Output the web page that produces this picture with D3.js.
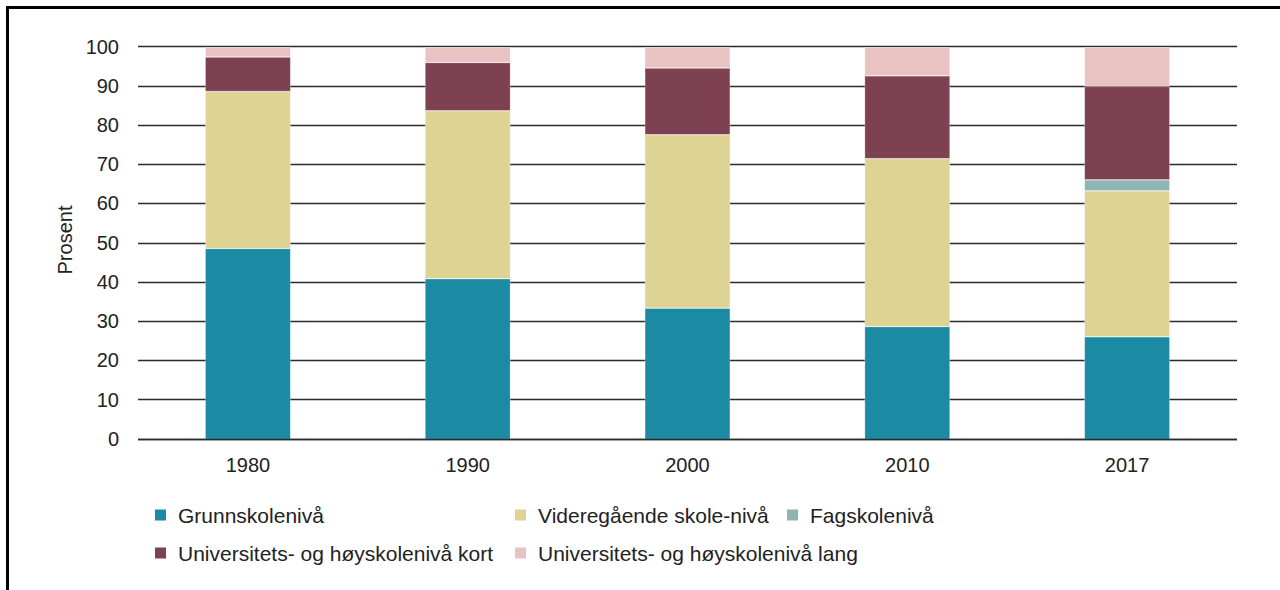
<!DOCTYPE html>
<html>
<head>
<meta charset="utf-8">
<script src="https://cdn.jsdelivr.net/npm/d3@7"></script>
<style>
  body { margin: 0; background: #fff; }
  svg { display: block; font-family: "Liberation Sans", Arial, sans-serif; }
</style>
</head>
<body>
<div id="chart"></div>
<script>
const years = ['1980', '1990', '2000', '2010', '2017'];
const series = ['Grunnskolenivå', 'Videregående skole-nivå', 'Fagskolenivå',
  'Universitets- og høyskolenivå kort', 'Universitets- og høyskolenivå lang'];
const grunn = [48.7, 41.0, 33.5, 28.8, 26.2];
const videregaende = [40.0, 42.8, 44.2, 42.8, 37.2];
const fagskole = [0, 0, 0, 0, 2.8];
const uniKort = [8.8, 12.3, 17.0, 21.1, 23.8];
const uniLang = [2.5, 3.9, 5.3, 7.3, 10.0];
const yTicks = [0, 10, 20, 30, 40, 50, 60, 70, 80, 90, 100];
const colors = ['#1b8aa3', '#dfd393', '#8fb5b3', '#7d4151', '#e8c3c2'];

const width = 1280, height = 590;
const svg = d3.select('#chart').append('svg')
  .attr('width', width).attr('height', height);

// frame (top + left only, as in the source)
svg.append('path')
  .attr('d', `M7.5,${height} V7.5 H${width}`)
  .attr('fill', 'none').attr('stroke', '#000').attr('stroke-width', 3);

const plot = { left: 138, right: 1237, top: 46.3, bottom: 438.7 };

const x = d3.scaleBand().domain(years).range([plot.left, plot.right]).paddingInner(0.614).paddingOuter(0.307);
const y = d3.scaleLinear().domain([0, 100]).range([plot.bottom, plot.top]);

const rows = years.map((yr, i) => ({
  year: yr,
  [series[0]]: grunn[i],
  [series[1]]: videregaende[i],
  [series[2]]: fagskole[i],
  [series[3]]: uniKort[i],
  [series[4]]: uniLang[i]
}));
const stacked = d3.stack().keys(series)(rows);

// gridlines
svg.append('g').selectAll('line').data(yTicks).join('line')
  .attr('x1', plot.left).attr('x2', plot.right)
  .attr('y1', d => Math.round(y(d)) + 0.5).attr('y2', d => Math.round(y(d)) + 0.5)
  .attr('stroke', '#2b2b2b').attr('stroke-width', 1.3);

// y labels
svg.append('g').selectAll('text').data(yTicks).join('text')
  .attr('x', 119).attr('y', d => y(d)).attr('dy', '0.36em')
  .attr('text-anchor', 'end').attr('font-size', 20).attr('fill', '#222')
  .text(d => d);

svg.append('text')
  .attr('transform', `translate(71.5,240) rotate(-90)`)
  .attr('text-anchor', 'middle').attr('font-size', 20).attr('fill', '#222')
  .text('Prosent');

// bars
svg.append('g').selectAll('g').data(stacked).join('g')
  .attr('fill', (d, i) => colors[i])
  .selectAll('rect').data(d => d.filter(s => s[1] - s[0] > 0)).join('rect')
  .attr('x', d => x(d.data.year))
  .attr('width', x.bandwidth())
  .attr('y', d => y(d[1]) + 1.2)
  .attr('height', d => Math.max(0, y(d[0]) - y(d[1]) - 0.6))
  .attr('stroke', 'rgba(255,255,255,0.35)').attr('stroke-width', 0.8);

// baseline over bars
svg.append('line')
  .attr('x1', plot.left).attr('x2', plot.right)
  .attr('y1', Math.round(y(0)) + 0.5).attr('y2', Math.round(y(0)) + 0.5)
  .attr('stroke', '#2b2b2b').attr('stroke-width', 1.3);

// x labels
svg.append('g').selectAll('text').data(years).join('text')
  .attr('x', d => x(d) + x.bandwidth() / 2).attr('y', 472)
  .attr('text-anchor', 'middle').attr('font-size', 20).attr('fill', '#222')
  .text(d => d);

// legend
const legendPos = [[155, 515], [515, 515], [787, 515], [155, 553], [515, 553]];
const legend = svg.append('g').selectAll('g').data(series).join('g')
  .attr('transform', (d, i) => `translate(${legendPos[i][0]},${legendPos[i][1]})`);
legend.append('rect')
  .attr('x', 0).attr('y', -5.5).attr('width', 11).attr('height', 11)
  .attr('fill', (d, i) => colors[i]);
legend.append('text')
  .attr('x', 23).attr('y', 0).attr('dy', '0.36em')
  .attr('font-size', 21).attr('fill', '#222')
  .text(d => d);
</script>
</body>
</html>
